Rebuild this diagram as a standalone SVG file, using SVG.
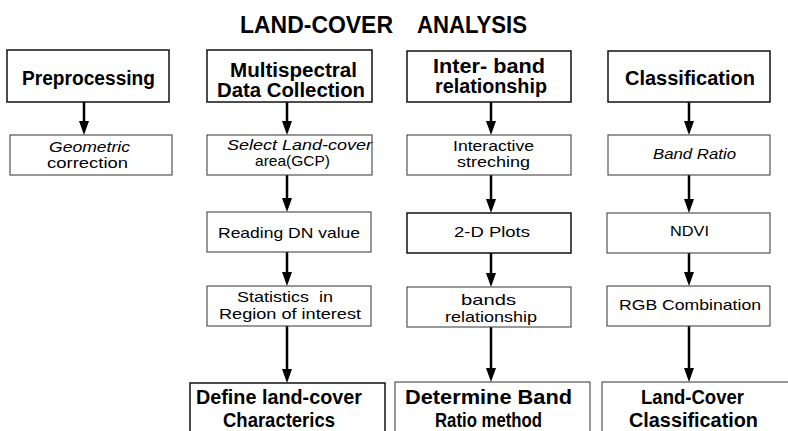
<svg xmlns="http://www.w3.org/2000/svg" width="788" height="431" viewBox="0 0 788 431">
<style>
  .hdr { fill: #fff; stroke: #111; stroke-width: 1.5; }
  .box { fill: #fff; stroke: #444; stroke-width: 1.1; }
  .ht { font-family: "Liberation Sans", Arial, sans-serif; font-weight: bold; font-size: 19.5px; fill: #000; }
  .st { font-family: "Liberation Sans", Arial, sans-serif; font-size: 15px; fill: #000; }
  .it { font-style: italic; }
  .title { font-family: "Liberation Sans", Arial, sans-serif; font-weight: bold; font-size: 23px; fill: #000; }
  .conn { stroke: #000; stroke-width: 2.5; fill: none; marker-end: url(#ah); }
</style>
<defs>
  <marker id="ah" markerUnits="userSpaceOnUse" markerWidth="14" markerHeight="10" refX="8" refY="5" orient="auto">
    <path d="M0,0 L14,5 L0,10 z" fill="#000"/>
  </marker>
</defs>
<rect width="788" height="431" fill="#fff"/>

<g id="title">
  <text class="title" x="240" y="33" textLength="153" lengthAdjust="spacingAndGlyphs">LAND-COVER</text>
  <text class="title" x="417" y="33" textLength="110" lengthAdjust="spacingAndGlyphs">ANALYSIS</text>
</g>

<g id="connectors">
  <path class="conn" d="M84,102 V129"/>
  <path class="conn" d="M287,102 V129"/>
  <path class="conn" d="M287,175 V206"/>
  <path class="conn" d="M287,252 V280"/>
  <path class="conn" d="M287,326 V377"/>
  <path class="conn" d="M491,102 V129"/>
  <path class="conn" d="M491,175 V207"/>
  <path class="conn" d="M491,253 V281"/>
  <path class="conn" d="M491,327 V376"/>
  <path class="conn" d="M689,102 V129"/>
  <path class="conn" d="M689,175 V207"/>
  <path class="conn" d="M689,253 V280"/>
  <path class="conn" d="M689,326 V376"/>
</g>

<g id="preprocessing">
  <rect class="hdr" x="7" y="50" width="162" height="52"/>
  <text class="ht" x="22" y="85" textLength="133" lengthAdjust="spacingAndGlyphs">Preprocessing</text>
</g>
<g id="geometric">
  <rect class="box" x="10" y="135" width="162" height="40"/>
  <text class="st it" x="49" y="152" textLength="81" lengthAdjust="spacingAndGlyphs">Geometric</text>
  <text class="st" x="47" y="168" textLength="81" lengthAdjust="spacingAndGlyphs">correction</text>
</g>

<g id="multispectral">
  <rect class="hdr" x="207" y="50" width="165" height="52"/>
  <text class="ht" x="230" y="77" textLength="127" lengthAdjust="spacingAndGlyphs">Multispectral</text>
  <text class="ht" x="217" y="97" textLength="148" lengthAdjust="spacingAndGlyphs">Data Collection</text>
</g>
<g id="select">
  <rect class="box" x="207" y="135" width="165" height="40"/>
  <text class="st it" x="227" y="150" textLength="145" lengthAdjust="spacingAndGlyphs">Select Land-cover</text>
  <text class="st" x="255" y="166" textLength="75" lengthAdjust="spacingAndGlyphs">area(GCP)</text>
</g>
<g id="reading">
  <rect class="box" x="207" y="212" width="164" height="40"/>
  <text class="st" x="218" y="238" textLength="142" lengthAdjust="spacingAndGlyphs">Reading DN value</text>
</g>
<g id="statistics">
  <rect class="box" x="207" y="286" width="164" height="40"/>
  <text class="st" x="237" y="302" textLength="96" lengthAdjust="spacingAndGlyphs" xml:space="preserve">Statistics  in</text>
  <text class="st" x="219" y="319" textLength="142" lengthAdjust="spacingAndGlyphs">Region of interest</text>
</g>
<g id="define">
  <rect class="hdr" x="190" y="383" width="195" height="60"/>
  <text class="ht" x="196" y="404" textLength="166" lengthAdjust="spacingAndGlyphs">Define land-cover</text>
  <text class="ht" x="223" y="427" textLength="112" lengthAdjust="spacingAndGlyphs">Characterics</text>
</g>

<g id="interband">
  <rect class="hdr" x="407" y="51" width="164" height="51"/>
  <text class="ht" x="433" y="73" textLength="112" lengthAdjust="spacingAndGlyphs">Inter- band</text>
  <text class="ht" x="435" y="93" textLength="112" lengthAdjust="spacingAndGlyphs">relationship</text>
</g>
<g id="interactive">
  <rect class="box" x="407" y="135" width="164" height="40"/>
  <text class="st" x="453" y="151" textLength="81" lengthAdjust="spacingAndGlyphs">Interactive</text>
  <text class="st" x="457" y="167" textLength="73" lengthAdjust="spacingAndGlyphs">streching</text>
</g>
<g id="plots">
  <rect class="hdr" x="407" y="213" width="164" height="40"/>
  <text class="st" x="454" y="237" textLength="76" lengthAdjust="spacingAndGlyphs">2-D Plots</text>
</g>
<g id="bands">
  <rect class="box" x="407" y="287" width="164" height="40"/>
  <text class="st" x="461" y="305" textLength="55" lengthAdjust="spacingAndGlyphs">bands</text>
  <text class="st" x="445" y="322" textLength="92" lengthAdjust="spacingAndGlyphs">relationship</text>
</g>
<g id="determine">
  <rect class="box" x="395" y="382" width="195" height="60"/>
  <text class="ht" x="405" y="404" textLength="167" lengthAdjust="spacingAndGlyphs">Determine Band</text>
  <text class="ht" x="435" y="427" textLength="107" lengthAdjust="spacingAndGlyphs">Ratio method</text>
</g>

<g id="classification">
  <rect class="hdr" x="608" y="51" width="162" height="51"/>
  <text class="ht" x="625" y="85" textLength="130" lengthAdjust="spacingAndGlyphs">Classification</text>
</g>
<g id="bandratio">
  <rect class="box" x="608" y="135" width="162" height="40"/>
  <text class="st it" x="653" y="159" textLength="83" lengthAdjust="spacingAndGlyphs">Band Ratio</text>
</g>
<g id="ndvi">
  <rect class="box" x="607" y="213" width="163" height="40"/>
  <text class="st" x="670" y="236" textLength="39" lengthAdjust="spacingAndGlyphs">NDVI</text>
</g>
<g id="rgb">
  <rect class="box" x="607" y="286" width="163" height="40"/>
  <text class="st" x="619" y="310" textLength="142" lengthAdjust="spacingAndGlyphs">RGB Combination</text>
</g>
<g id="landcover">
  <rect class="box" x="602" y="382" width="195" height="60"/>
  <text class="ht" x="641" y="404" textLength="103" lengthAdjust="spacingAndGlyphs">Land-Cover</text>
  <text class="ht" x="629" y="427" textLength="129" lengthAdjust="spacingAndGlyphs">Classification</text>
</g>
</svg>
